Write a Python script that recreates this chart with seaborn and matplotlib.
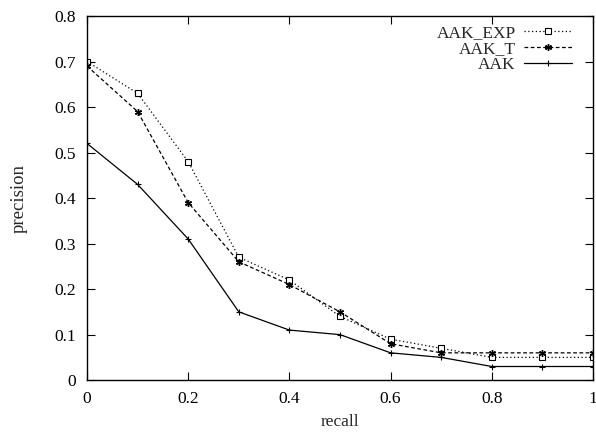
import matplotlib
matplotlib.use("Agg")
import matplotlib.pyplot as plt
import seaborn as sns
import pandas as pd

recall = [0.0, 0.1, 0.2, 0.3, 0.4, 0.5, 0.6, 0.7, 0.8, 0.9, 1.0]
aak_exp = [0.70, 0.63, 0.48, 0.27, 0.22, 0.14, 0.09, 0.07, 0.05, 0.05, 0.05]
aak_t = [0.69, 0.59, 0.39, 0.26, 0.21, 0.15, 0.08, 0.06, 0.06, 0.06, 0.06]
aak = [0.52, 0.43, 0.31, 0.15, 0.11, 0.10, 0.06, 0.05, 0.03, 0.03, 0.03]
series_names = ["AAK_EXP", "AAK_T", "AAK"]
xticks = [0, 0.2, 0.4, 0.6, 0.8, 1]
yticks = [0, 0.1, 0.2, 0.3, 0.4, 0.5, 0.6, 0.7, 0.8]

sns.set_theme(style="ticks")
plt.rcParams["font.family"] = ["Liberation Serif", "DejaVu Serif"]

df = pd.DataFrame({
    "recall": recall * 3,
    "precision": aak_exp + aak_t + aak,
    "series": [series_names[0]] * len(recall) + [series_names[1]] * len(recall) + [series_names[2]] * len(recall),
})

fig = plt.figure(figsize=(5.96, 4.32), dpi=100)
ax = fig.add_axes([0.146, 0.120, 0.849, 0.843])

styles = {
    "AAK_EXP": dict(linestyle=(0, (1, 2)), marker="s", markersize=4.5, markerfacecolor="white", markeredgewidth=0.8),
    "AAK_T": dict(linestyle=(0, (3, 2)), marker=(6, 2, 0), markersize=5, markerfacecolor="black", markeredgewidth=1.0),
    "AAK": dict(linestyle="-", marker="+", markersize=5, markerfacecolor="black", markeredgewidth=0.8),
}
for name in series_names:
    sub = df[df["series"] == name]
    sns.lineplot(data=sub, x="recall", y="precision", ax=ax, color="black",
                 linewidth=0.9, label=name, markeredgecolor="black", **styles[name])

ax.set_xlim(0, 1)
ax.set_ylim(0, 0.8)
ax.set_xticks(xticks)
ax.set_xticklabels(["0", "0.2", "0.4", "0.6", "0.8", "1"])
ax.set_yticks(yticks)
ax.set_yticklabels(["0", "0.1", "0.2", "0.3", "0.4", "0.5", "0.6", "0.7", "0.8"])
ax.tick_params(direction="in", length=6, width=0.8, top=True, right=True,
               labelsize=12.5, colors="black")
ax.tick_params(axis="x", pad=8)
ax.tick_params(axis="y", pad=8)
for sp in ax.spines.values():
    sp.set_visible(True)
    sp.set_linewidth(1.0)
    sp.set_color("black")
ax.set_xlabel("recall", fontsize=12.5, labelpad=5)
ax.set_ylabel("precision", fontsize=13.5, labelpad=19)

leg = ax.legend(loc="upper right", bbox_to_anchor=(0.976, 1.0), frameon=False,
                markerfirst=False, fontsize=12.5,
                handlelength=2.8, labelspacing=0.0, borderaxespad=0.2, borderpad=0.3,
                handletextpad=0.45)
for t in leg.get_texts():
    t.set_ha("right")

fig.savefig("out.png", dpi=100)
